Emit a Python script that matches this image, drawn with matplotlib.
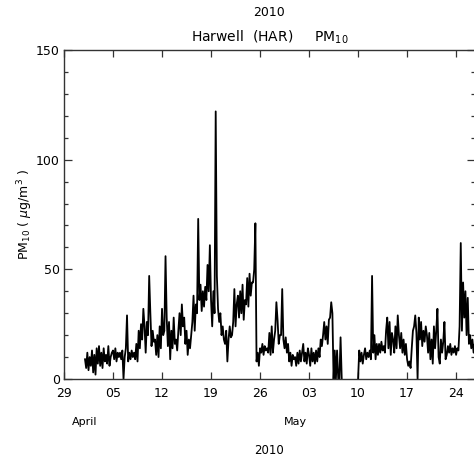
import numpy as np
import pandas as pd
import matplotlib
matplotlib.use('Agg')
from matplotlib import pyplot as plt
import matplotlib.dates as mdates
import matplotlib.transforms as mtrans

# 4-hourly PM10 values (ug/m3), six per day
april_pm10 = [
	9, 5, 12, 4, 10, 6,        # 01
	13, 3, 11, 2, 14, 7,       # 02
	15, 6, 12, 5, 14, 8,       # 03
	11, 7, 15, 6, 10, 12,      # 04
	13, 9, 14, 8, 12, 10,      # 05
	12, 9, 13, 0, 10, 14,      # 06
	29, 8, 12, 9, 13, 10,      # 07
	12, 9, 16, 8, 22, 14,      # 08
	25, 18, 32, 24, 12, 26,    # 09
	20, 47, 30, 15, 22, 17,    # 10
	18, 11, 20, 10, 24, 14,    # 11
	32, 20, 22, 56, 28, 15,    # 12
	26, 9, 22, 14, 28, 16,     # 13
	18, 13, 22, 30, 20, 34,    # 14
	24, 28, 16, 22, 11, 18,    # 15
	14, 20, 26, 38, 22, 34,    # 16
	30, 73, 36, 43, 31, 40,    # 17
	33, 42, 36, 52, 40, 61,    # 18
	36, 24, 40, 30, 122, 47,   # 19
	32, 26, 30, 20, 24, 18,    # 20
	16, 22, 8, 18, 24, 19,     # 21
	20, 26, 41, 24, 34, 38,    # 22
	28, 40, 30, 43, 27, 36,    # 23
	34, 46, 33, 48, 38, 44,    # 24
	44, 50, 71, 8, 12, 6,      # 25
	14, 12, 16, 11, 15, 13,    # 26
	14, 12, 21, 11, 24, 12,    # 27
	18, 22, 35, 27, 16, 20,    # 28
	20, 41, 18, 14, 19, 12,    # 29
	16, 8, 12, 6, 11, 9,       # 30
]
nan = np.nan
may_pm10 = [
	10, 6, 12, 7, 13, 8,       # 01
	12, 16, 8, 12, 7, 14,      # 02
	11, 6, 14, 8, 12, 7,       # 03
	13, 8, 14, 10, 18, 15,     # 04
	20, 26, 18, 24, 16, 27,    # 05
	28, 35, 30, 0, 13, 0,      # 06
	13, 0, 0, 19, 0, nan,      # 07
	nan, nan, nan, nan, nan, nan,  # 08
	nan, nan, nan, nan, nan, nan,  # 09
	0, 13, 8, 12, 7, 11,       # 10
	14, 9, 12, 10, 13, 9,      # 11
	47, 12, 20, 9, 16, 11,     # 12
	16, 12, 17, 13, 15, 12,    # 13
	22, 28, 14, 26, 11, 21,    # 14
	18, 12, 24, 14, 29, 20,    # 15
	14, 21, 12, 18, 11, 16,    # 16
	9, 6, 8, 5, 14, 22,        # 17
	24, 29, 21, 0, 28, 18,     # 18
	26, 15, 22, 17, 24, 20,    # 19
	12, 21, 9, 18, 7, 24,      # 20
	14, 22, 32, 10, 7, 18,     # 21
	12, 17, 26, 9, 11, 15,     # 22
	12, 16, 11, 14, 12, 15,    # 23
	11, 14, 13, 24, 62, 22,    # 24
	44, 28, 40, 20, 37, 16,    # 25
	20, 14, 18, 12, 16, 13,    # 26
]
month_names = ['April', 'May']
month_starts = ['2010-04-01', '2010-05-01']

values = np.array(april_pm10 + may_pm10, dtype=float)
times  = pd.date_range('2010-04-01', periods=len(values), freq='4h')

W, H = 474, 465
fig = plt.figure(figsize=(W/100, H/100), dpi=100)
# axes in pixels: left 64, right 475 (just past the edge), top 50, bottom 379
ax = fig.add_axes([64/W, (H-379)/H, 411/W, 329/H])

ax.plot(times, values, color='k', linewidth=1.3)

t0 = pd.Timestamp('2010-03-29')
ax.set_xlim(t0, t0 + pd.Timedelta(days=58.7))
ax.set_ylim(0, 150)

ax.xaxis.set_major_locator(mdates.WeekdayLocator(byweekday=mdates.MO))
ax.xaxis.set_major_formatter(mdates.DateFormatter('%d'))
ax.yaxis.set_major_locator(plt.MultipleLocator(50))
ax.yaxis.set_minor_locator(plt.MultipleLocator(10))

ax.tick_params(which='both', direction='in', top=True, right=True, color='#333333', width=0.9)
ax.tick_params(axis='x', which='major', length=5, pad=6, labelsize=9)
ax.tick_params(axis='y', which='major', length=5.5, pad=3, labelsize=9)
ax.tick_params(axis='y', which='minor', length=3)
for s in ax.spines.values():
	s.set_color('#333333')
	s.set_linewidth(1.0)

ax.set_ylabel('PM$_{10}$ ( $\\mu$g/m$^3$ )', fontsize=9, va='center')
ax.yaxis.set_label_coords((25-64)/411, 0.5)

# month names under the first of each month, year under the centre
trans = mtrans.blended_transform_factory(ax.transData, ax.transAxes)
for name, d in zip(month_names, month_starts):
	ax.text(pd.Timestamp(d), (379-422)/329, name, transform=trans,
			ha='center', va='center', fontsize=8)
ax.text(0.5, (379-450)/329, '2010', transform=ax.transAxes,
		ha='center', va='center', fontsize=8.5)

ax.text(0.5, (379-13)/329, '2010', transform=ax.transAxes,
		ha='center', va='center', fontsize=9)
ax.text(0.5, (379-37)/329, 'Harwell  (HAR)     PM$_{10}$', transform=ax.transAxes,
		ha='center', va='center', fontsize=10)

fig.savefig('out.png', dpi=100)
